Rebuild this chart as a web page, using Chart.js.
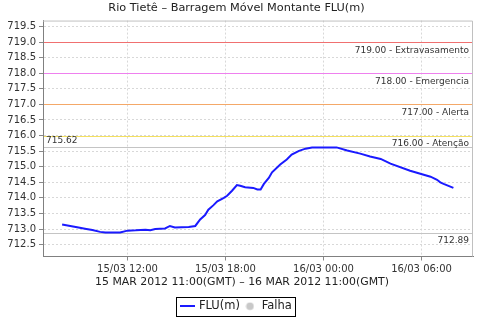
<!DOCTYPE html>
<html>
<head>
<meta charset="utf-8">
<script src="https://cdn.jsdelivr.net/npm/chart.js@4/dist/chart.umd.min.js"></script>
<style>
  html, body { margin: 0; padding: 0; background: #fff; }
  #wrap { width: 480px; height: 320px; }
</style>
</head>
<body>
<div id="wrap"><canvas id="myChart" width="480" height="320"></canvas></div>
<script>
// horas desde 15/03 00:00 (GMT)
const hours = [8.0, 8.5, 9.0, 9.4, 9.85, 10.33, 10.65, 11.55, 12.0, 12.5, 13.1, 13.4, 13.7, 14.3, 14.6, 14.9, 15.75, 16.15,
  16.45, 16.75, 16.95, 17.25, 17.5, 17.9, 18.1, 18.4, 18.7, 18.9, 19.2, 19.7, 19.95, 20.15, 20.35, 20.65, 20.85,
  21.35, 21.75, 22.05, 22.5, 22.9, 23.3, 24.8, 25.45, 26.25, 26.85, 27.5, 28.1, 29.3, 30.55, 30.95, 31.15, 31.35, 31.95];
const level = [713.15, 713.10, 713.05, 713.01, 712.97, 712.91, 712.89, 712.89, 712.95, 712.96, 712.98, 712.96, 713.00, 713.02, 713.10, 713.05, 713.07, 713.10,
  713.31, 713.45, 713.62, 713.76, 713.89, 714.00, 714.07, 714.23, 714.41, 714.39, 714.34, 714.32, 714.27, 714.27, 714.45, 714.64, 714.82,
  715.07, 715.23, 715.39, 715.51, 715.58, 715.62, 715.62, 715.52, 715.42, 715.33, 715.25, 715.10, 714.87, 714.68, 714.58, 714.50, 714.45, 714.32];

// cotas de referencia
const limits = [719, 718, 717, 716];
const limitNames = ['Extravasamento', 'Emergencia', 'Alerta', 'Atenção'];
const limitColors = ['#f07070', '#ee80ee', '#f4a868', '#f4e060'];
const maxLevel = 715.62;
const minLevel = 712.89;

const yTicks = [712.5, 713, 713.5, 714, 714.5, 715, 715.5, 716, 716.5, 717, 717.5, 718, 718.5, 719, 719.5];
const xTicks = [12, 18, 24, 30];
const xTickLabels = ['15/03 12:00', '15/03 18:00', '16/03 00:00', '16/03 06:00'];
const periodo = '15 MAR 2012 11:00(GMT) – 16 MAR 2012 11:00(GMT)';

const font = "'DejaVu Sans', sans-serif";

// icones da legenda
function legendIcon(kind) {
    const cv = document.createElement('canvas');
    const g = cv.getContext('2d');
    if (kind === 'line') {
        cv.width = 15; cv.height = 2;
        g.fillStyle = '#1a1aff';
        g.fillRect(0, 0, 15, 2);
    } else {
        cv.width = 9; cv.height = 9;
        g.fillStyle = '#c8c8c8';
        g.beginPath(); g.arc(4.5, 4.5, 3.8, 0, Math.PI * 2); g.fill();
    }
    return cv;
}

// linhas de cota + textos
const refLines = {
    id: 'refLines',
    beforeDatasetsDraw(chart) {
        const c = chart.ctx, a = chart.chartArea, y = chart.scales.y;
        c.save();
        c.lineWidth = 1;
        c.setLineDash([]);
        for (let i = 0; i < limits.length; i++) {
            const py = Math.round(y.getPixelForValue(limits[i])) + 0.5;
            c.strokeStyle = limitColors[i];
            c.beginPath(); c.moveTo(a.left + 1, py); c.lineTo(a.right, py); c.stroke();
        }
        c.strokeStyle = '#c4c4c4';
        [maxLevel, minLevel].forEach(v => {
            const py = Math.round(y.getPixelForValue(v)) + 0.5;
            c.beginPath(); c.moveTo(a.left + 1, py); c.lineTo(a.right, py); c.stroke();
        });
        c.fillStyle = '#333';
        c.font = '9px ' + font;
        c.textBaseline = 'top';
        c.textAlign = 'right';
        for (let i = 0; i < limits.length; i++) {
            const py = y.getPixelForValue(limits[i]);
            c.fillText(limits[i].toFixed(2) + ' - ' + limitNames[i], a.right - 4, py + 4);
        }
        c.fillText(minLevel.toFixed(2), a.right - 4, y.getPixelForValue(minLevel) + 4);
        c.textAlign = 'left';
        c.textBaseline = 'bottom';
        c.fillText(maxLevel.toFixed(2), a.left + 3, y.getPixelForValue(maxLevel) - 2);
        // borda superior/direita
        c.strokeStyle = '#c0c0c0';
        c.beginPath();
        c.moveTo(a.left, a.top + 0.5); c.lineTo(a.right - 0.5, a.top + 0.5); c.lineTo(a.right - 0.5, a.bottom);
        c.stroke();
        c.restore();
    },
    afterDraw(chart) {
        const hb = chart.legend.legendHitBoxes, c = chart.ctx;
        c.save();
        // periodo (centralizado no canvas)
        c.fillStyle = '#222';
        c.font = '10.9px ' + font;
        c.textAlign = 'center';
        c.textBaseline = 'middle';
        c.fillText(periodo, 242, chart.scales.x.bottom - 14);
        if (hb && hb.length) {
            let l = Infinity, r = -Infinity, t = Infinity, b = -Infinity;
            hb.forEach(h => { l = Math.min(l, h.left); r = Math.max(r, h.left + h.width); t = Math.min(t, h.top); b = Math.max(b, h.top + h.height); });
            c.strokeStyle = '#000';
            c.lineWidth = 1;
            c.strokeRect(Math.round(l - 5) + 0.5, Math.round(t - 4) + 0.5, Math.round(r - l + 8), Math.round(b - t + 7));
        }
        c.restore();
    }
};

const ctx = document.getElementById('myChart').getContext('2d');
new Chart(ctx, {
    type: 'line',
    data: {
        datasets: [{
            label: 'FLU(m)',
            data: hours.map((h, i) => ({ x: h, y: level[i] })),
            borderColor: '#1a1aff',
            backgroundColor: '#1a1aff',
            borderWidth: 2,
            pointRadius: 0,
            tension: 0,
            fill: false
        }]
    },
    options: {
        responsive: false,
        animation: false,
        layout: { padding: { left: 0, right: 7, top: 0, bottom: -2 } },
        plugins: {
            title: {
                display: true,
                text: 'Rio Tietê – Barragem Móvel Montante FLU(m)',
                color: '#222',
                font: { family: font, size: 11.3, weight: 'normal' },
                padding: { top: 1, bottom: 6 }
            },
            legend: {
                position: 'bottom',
                labels: {
                    usePointStyle: true,
                    pointStyleWidth: 12,
                    color: '#222',
                    font: { family: font, size: 11.5 },
                    padding: 4,
                    generateLabels() {
                        return [
                            { text: 'FLU(m)', pointStyle: legendIcon('line'), fontColor: '#222', lineWidth: 0 },
                            { text: 'Falha', pointStyle: legendIcon('circle'), fontColor: '#222', lineWidth: 0 }
                        ];
                    }
                }
            },
            tooltip: { enabled: false }
        },
        scales: {
            x: {
                type: 'linear',
                min: 6.83,
                max: 33.15,
                afterBuildTicks(scale) { scale.ticks = xTicks.map(v => ({ value: v })); },
                afterFit(scale) { scale.height = 40; },
                ticks: {
                    autoSkip: false,
                    maxRotation: 0,
                    color: '#333',
                    font: { family: font, size: 10 },
                    padding: 3,
                    callback: (v) => xTickLabels[xTicks.indexOf(v)]
                },
                grid: { color: '#d8d8d8', tickLength: 4, tickColor: '#888', tickBorderDash: [] },
                border: { color: '#808080', dash: [2, 2] }
            },
            y: {
                min: 712.12,
                max: 719.69,
                afterBuildTicks(scale) { scale.ticks = yTicks.map(v => ({ value: v })); },
                afterFit(scale) { scale.width = 43; },
                ticks: {
                    color: '#333',
                    font: { family: font, size: 10 },
                    padding: 3,
                    callback: (v) => v.toFixed(1)
                },
                grid: { color: '#d8d8d8', tickLength: 4, tickColor: '#888', tickBorderDash: [] },
                border: { color: '#808080', dash: [2, 2] }
            }
        }
    },
    plugins: [refLines]
});
</script>
</body>
</html>
